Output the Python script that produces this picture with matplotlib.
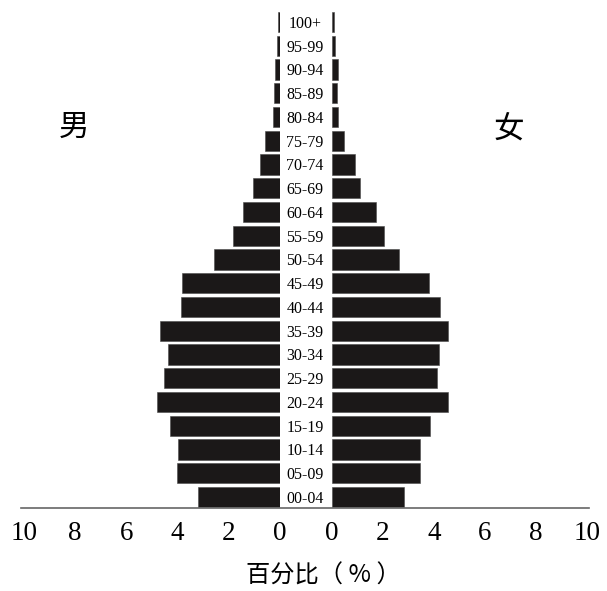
import numpy as np
import matplotlib
matplotlib.use('Agg')
from matplotlib import pyplot as plt
from matplotlib.lines import Line2D
from matplotlib.transforms import blended_transform_factory

#年龄组(从下到上)
age_groups = ['00-04', '05-09', '10-14', '15-19', '20-24', '25-29', '30-34',
              '35-39', '40-44', '45-49', '50-54', '55-59', '60-64', '65-69',
              '70-74', '75-79', '80-84', '85-89', '90-94', '95-99', '100+']
#男性百分比
male = [3.22, 4.01, 3.97, 4.28, 4.81, 4.54, 4.39, 4.70, 3.88, 3.81,
        2.59, 1.83, 1.45, 1.04, 0.80, 0.58, 0.29, 0.24, 0.20, 0.10, 0.08]
#女性百分比
female = [2.81, 3.47, 3.47, 3.84, 4.56, 4.11, 4.18, 4.56, 4.23, 3.82,
          2.62, 2.04, 1.71, 1.10, 0.91, 0.48, 0.25, 0.21, 0.25, 0.10, 0.08]
ticks = [0, 2, 4, 6, 8, 10]

W, H = 607, 591
fig = plt.figure(figsize=(W / 100, H / 100), dpi=100)

serif = ['Liberation Serif', 'DejaVu Serif']
cjk = ['Noto Sans CJK SC', 'DejaVu Sans']
bar_color = '#1b1818'

y = np.arange(len(age_groups))
bottom = (H - 509) / H
height = 499 / H

ax_l = fig.add_axes([24 / W, bottom, 256 / W, height])
ax_r = fig.add_axes([332 / W, bottom, 255 / W, height])

ax_l.barh(y, male, height=0.85, color=bar_color, edgecolor='#4a4a4a', linewidth=0.4)
ax_r.barh(y, female, height=0.85, color=bar_color, edgecolor='#4a4a4a', linewidth=0.4)

ax_l.set_xlim(10, 0)
ax_r.set_xlim(0, 10)
for ax in (ax_l, ax_r):
    ax.set_ylim(-0.5, len(age_groups) - 0.5)
    ax.set_xticks(ticks)
    ax.set_xticklabels([str(t) for t in ticks], fontsize=19.5, family=serif)
    ax.set_yticks([])
    ax.tick_params(axis='x', length=0, pad=9)
    for s in ax.spines.values():
        s.set_visible(False)

#年龄组标签
tr = blended_transform_factory(fig.transFigure, ax_l.transData)
for i, lab in enumerate(age_groups):
    fig.text(305 / W, i - 0.08, lab, transform=tr, ha='center', va='center',
             fontsize=11.5, family=serif)

#底部横线
fig.add_artist(Line2D([21 / W, 589 / W], [(H - 507.5) / H, (H - 507.5) / H],
                      color='#666666', linewidth=1.2))

fig.text(74 / W, 1 - 127 / H, '男', ha='center', va='center', fontsize=22, family=cjk)
fig.text(509 / W, 1 - 130 / H, '女', ha='center', va='center', fontsize=22, family=cjk)
fig.text(323 / W, 1 - 576 / H, '百分比（ % ）', ha='center', va='center', fontsize=17.5,
         family=cjk, weight='light')

plt.savefig('out.png', dpi=100)
